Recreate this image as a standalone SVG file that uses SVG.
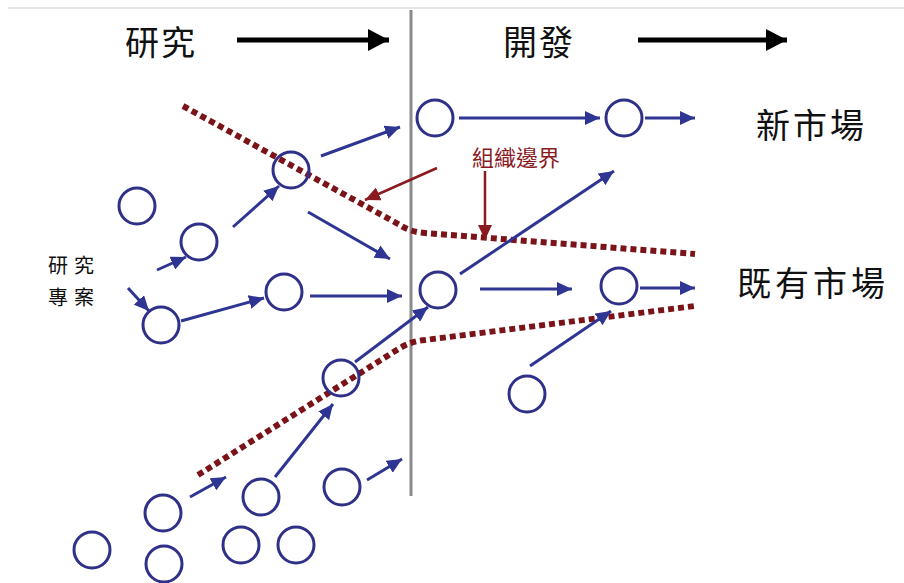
<svg xmlns="http://www.w3.org/2000/svg" width="904" height="583" viewBox="0 0 904 583">
<defs>
<style>
.n circle{fill:none;stroke:#2e3187;stroke-width:3}
.c line{stroke:#2e3592;stroke-width:3}
.r line{stroke:#8a1a1f;stroke-width:2.5}
.b{fill:none;stroke:#7a1418;stroke-width:6;stroke-dasharray:6 4}
.t{font-family:"Noto Sans CJK TC","Noto Sans CJK SC",sans-serif;fill:#111;dominant-baseline:central}
</style>
<marker id="ah" markerUnits="userSpaceOnUse" markerWidth="16" markerHeight="14" refX="15" refY="7" orient="auto"><path d="M0,0 L15,7 L0,14 z" fill="#2e3592"/></marker>
<marker id="rh" markerUnits="userSpaceOnUse" markerWidth="16" markerHeight="14" refX="15" refY="7" orient="auto"><path d="M0,0 L15,7 L0,14 z" fill="#8a1a1f"/></marker>
<marker id="bh" markerUnits="userSpaceOnUse" markerWidth="22" markerHeight="22" refX="21" refY="11" orient="auto"><path d="M0,0 L21,11 L0,22 z" fill="#000"/></marker>
</defs>
<rect width="904" height="583" fill="#fff"/>
<line x1="8" y1="8" x2="904" y2="8" stroke="#ddd" stroke-width="1.5"/>
<line x1="411" y1="10" x2="411" y2="496" stroke="#8a8a8a" stroke-width="3"/>

<g id="headers">
<text class="t" x="125" y="40" font-size="34" letter-spacing="2">研究</text>
<line x1="237" y1="40" x2="389" y2="40" stroke="#000" stroke-width="5" marker-end="url(#bh)"/>
<text class="t" x="503" y="40" font-size="34" letter-spacing="2">開發</text>
<line x1="638" y1="40" x2="787" y2="40" stroke="#000" stroke-width="5" marker-end="url(#bh)"/>
</g>

<g id="labels">
<text class="t" x="756" y="123" font-size="34" letter-spacing="3">新市場</text>
<text class="t" x="737" y="281" font-size="34" letter-spacing="4">既有市場</text>
<text class="t" x="48" y="264" font-size="20" letter-spacing="6">研究</text>
<text class="t" x="48" y="296" font-size="20" letter-spacing="6">專案</text>
<text class="t" x="472" y="156" font-size="22" fill="#8a1a1f" style="fill:#8a1a1f">組織邊界</text>
</g>

<g id="boundaries">
<path class="b" d="M183,106 L400,225 Q410,232 425,233 L695,254"/>
<path class="b" d="M198,475 L400,348 Q412,341 425,340 L695,306"/>
</g>

<g id="nodes" class="n">
<g id="n1"><circle cx="435" cy="118" r="18"/></g>
<g id="n2"><circle cx="624" cy="118" r="18"/></g>
<g id="n3"><circle cx="291" cy="170" r="18"/></g>
<g id="n4"><circle cx="137" cy="206" r="18"/></g>
<g id="n5"><circle cx="199" cy="242" r="18"/></g>
<g id="n6"><circle cx="284" cy="292" r="18"/></g>
<g id="n7"><circle cx="161" cy="325" r="18"/></g>
<g id="n8"><circle cx="438" cy="290" r="18"/></g>
<g id="n9"><circle cx="619" cy="286" r="18"/></g>
<g id="n10"><circle cx="341" cy="378" r="18"/></g>
<g id="n11"><circle cx="527" cy="394" r="18"/></g>
<g id="n12"><circle cx="163" cy="513" r="18"/></g>
<g id="n13"><circle cx="261" cy="497" r="18"/></g>
<g id="n14"><circle cx="342" cy="487" r="18"/></g>
<g id="n15"><circle cx="92" cy="550" r="18"/></g>
<g id="n16"><circle cx="164" cy="564" r="18"/></g>
<g id="n17"><circle cx="241" cy="545" r="18"/></g>
<g id="n18"><circle cx="296" cy="545" r="18"/></g>
</g>

<g id="connectors" class="c">
<line x1="459" y1="118" x2="600" y2="118" marker-end="url(#ah)"/>
<line x1="645" y1="118" x2="695" y2="118" marker-end="url(#ah)"/>
<line x1="321" y1="156" x2="400" y2="127" marker-end="url(#ah)"/>
<line x1="233" y1="227" x2="279" y2="186" marker-end="url(#ah)"/>
<line x1="157" y1="270" x2="186" y2="257" marker-end="url(#ah)"/>
<line x1="128" y1="288" x2="149" y2="311" marker-end="url(#ah)"/>
<line x1="181" y1="321" x2="264" y2="298" marker-end="url(#ah)"/>
<line x1="310" y1="296" x2="402" y2="296" marker-end="url(#ah)"/>
<line x1="308" y1="212" x2="390" y2="259" marker-end="url(#ah)"/>
<line x1="355" y1="362" x2="428" y2="307" marker-end="url(#ah)"/>
<line x1="460" y1="274" x2="614" y2="171" marker-end="url(#ah)"/>
<line x1="480" y1="289" x2="572" y2="289" marker-end="url(#ah)"/>
<line x1="640" y1="288" x2="695" y2="288" marker-end="url(#ah)"/>
<line x1="530" y1="366" x2="611" y2="311" marker-end="url(#ah)"/>
<line x1="190" y1="497" x2="226" y2="477" marker-end="url(#ah)"/>
<line x1="275" y1="477" x2="333" y2="404" marker-end="url(#ah)"/>
<line x1="367" y1="480" x2="402" y2="459" marker-end="url(#ah)"/>
</g>
<g id="boundary-pointers" class="r">
<line x1="437" y1="168" x2="365" y2="200" marker-end="url(#rh)"/>
<line x1="485" y1="171" x2="485" y2="240" marker-end="url(#rh)"/>
</g>
</svg>
